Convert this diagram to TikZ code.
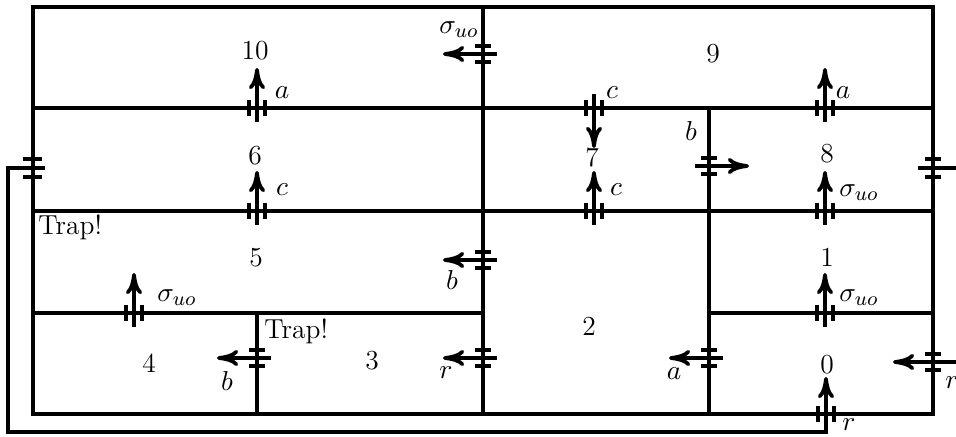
\documentclass[tikz,border=0pt]{standalone}
\usetikzlibrary{arrows.meta}
\begin{document}
\begin{tikzpicture}[x=0.4pt,y=-0.4pt,
  every node/.style={font=\fontsize{11}{13}\selectfont},
  wall/.style={line width=1.4pt},
  bar/.style={line width=1.4pt},
  arr/.style={line width=1.5pt,-{To[length=8.5pt,width=6.5pt]}},
  lab/.style={inner sep=0pt},
  door/.pic={\draw[bar] (-8,-8)--(-8,8) (8,-8)--(8,8); \draw[arr] (0,14)--(0,-40);}
]
\useasboundingbox (0,0) rectangle (956,437);
\clip (0,0) rectangle (956,437);
% walls
\draw[wall] (33,7) rectangle (933,414);
\draw[wall] (33,108) -- (933,108);
\draw[wall] (33,211) -- (933,211);
\draw[wall] (33,313) -- (483,313);
\draw[wall] (709,313) -- (933,313);
\draw[wall] (483,7) -- (483,414);
\draw[wall] (709,108) -- (709,414);
\draw[wall] (257,313) -- (257,414);
% doors
\pic at (257,108) {door};
\pic at (257,211) {door};
\pic[rotate=90] at (483,54) {door};
\pic[rotate=180] at (594,108) {door};
\pic at (594,211) {door};
\pic[rotate=-90] at (709,166) {door};
\pic at (825,108) {door};
\pic at (825,211) {door};
\pic[rotate=90] at (483,260) {door};
\pic at (134,313) {door};
\pic[rotate=90] at (257,358) {door};
\pic[rotate=90] at (483,358) {door};
\pic[rotate=90] at (709,358) {door};
\pic at (825,313) {door};
% right-side doors
\draw[bar] (925,159)--(941,159) (925,177)--(941,177);
\draw[wall] (918,168)--(990,168);
\draw[bar] (925,354)--(941,354) (925,370)--(941,370);
\draw[arr] (990,362)--(893,362);
% left door and loop
\draw[bar] (23,159)--(42,159) (23,177)--(42,177);
\draw[bar] (818,406)--(818,422) (834,406)--(834,422);
\coordinate (ls) at (45,168);
\coordinate (le) at (826,377);
\draw[arr] (ls) -| (8,432) -| (le);
% room labels
\node[lab] (n10) at (255,51) {10};
\node[lab] (n9) at (713,54) {9};
\node[lab] (n6) at (255,156) {6};
\node[lab] (n7) at (592,158) {7};
\node[lab] (n8) at (827,154) {8};
\node[lab] (n5) at (256,258) {5};
\node[lab] (n1) at (827,257) {1};
\node[lab] (n2) at (589,326) {2};
\node[lab] (n4) at (149,363) {4};
\node[lab] (n3) at (372,361) {3};
\node[lab] (n0) at (827,365) {0};
\node[lab,anchor=west] (t5) at (38,227) {Trap!};
\node[lab,anchor=west] (t3) at (264,331) {Trap!};
% event labels
\node[lab] (e1) at (282,93) {$a$};
\node[lab] (e2) at (282,190) {$c$};
\node[lab] (e3) at (459,30) {$\sigma_{uo}$};
\node[lab] (e4) at (612,93) {$c$};
\node[lab] (e5) at (616,190) {$c$};
\node[lab] (e6) at (691,131) {$b$};
\node[lab] (e7) at (843,93) {$a$};
\node[lab] (e8) at (859,193) {$\sigma_{uo}$};
\node[lab] (e9) at (452,280) {$b$};
\node[lab] (e10) at (177,298) {$\sigma_{uo}$};
\node[lab] (e11) at (227,381) {$b$};
\node[lab] (e12) at (446,373) {$r$};
\node[lab] (e13) at (674,374) {$a$};
\node[lab] (e14) at (859,298) {$\sigma_{uo}$};
\node[lab] (e15) at (952,383) {$r$};
\node[lab] (e16) at (849,425) {$r$};
\end{tikzpicture}
\end{document}
